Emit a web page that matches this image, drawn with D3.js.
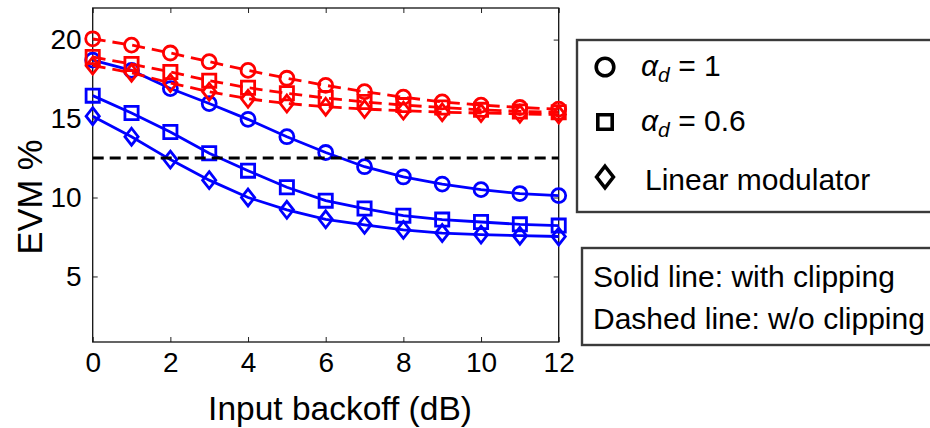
<!DOCTYPE html>
<html>
<head>
<meta charset="utf-8">
<script src="https://cdn.jsdelivr.net/npm/d3@7"></script>
<style>
  body { margin: 0; background: #fff; }
  svg { display: block; }
  text { font-family: "Liberation Sans", Arial, Helvetica, sans-serif; fill: #000; }
</style>
</head>
<body>
<svg id="chart" width="930" height="428"></svg>
<script>
// Input backoff (dB)
const backoff = [0, 1, 2, 3, 4, 5, 6, 7, 8, 9, 10, 11, 12];

// EVM (%) with clipping (solid blue)
const clipAlpha1   = [18.7, 18.05, 16.9, 15.95, 14.95, 13.85, 12.85, 11.95, 11.3, 10.85, 10.5, 10.25, 10.12];
const clipAlpha06  = [16.45, 15.35, 14.15, 12.8, 11.7, 10.65, 9.8, 9.3, 8.85, 8.6, 8.45, 8.3, 8.22];
const clipLinear   = [15.15, 13.85, 12.4, 11.1, 10.0, 9.22, 8.62, 8.27, 7.95, 7.75, 7.65, 7.58, 7.53];

// EVM (%) without clipping (dashed red)
const noClipAlpha1  = [20.05, 19.65, 19.15, 18.6, 18.05, 17.55, 17.1, 16.7, 16.35, 16.05, 15.85, 15.7, 15.6];
const noClipAlpha06 = [18.9, 18.45, 17.95, 17.4, 16.95, 16.6, 16.3, 16.05, 15.85, 15.7, 15.55, 15.45, 15.4];
const noClipLinear  = [18.35, 17.9, 17.25, 16.7, 16.25, 15.95, 15.75, 15.6, 15.5, 15.4, 15.35, 15.3, 15.25];

// EVM requirement level
const evmLimit = 12.5;

const xTicks = [0, 2, 4, 6, 8, 10, 12];
const yTicks = [5, 10, 15, 20];

const legendMarkers = ["circle", "square", "diamond"];
const legendNotes = ["Solid line: with clipping", "Dashed line: w/o clipping"];

const svg = d3.select("#chart");

const plotLeft = 92.7, plotRight = 558.7, plotTop = 8, plotBottom = 342;
const x = d3.scaleLinear().domain([0, 12]).range([plotLeft, plotRight]);
const y = d3.scaleLinear().domain([0.85, 22]).range([plotBottom, plotTop]);

// marker outlines centred on (cx, cy)
function markerPath(shape, cx, cy, s) {
  if (shape === "circle") {
    const p = d3.path();
    p.moveTo(cx + s, cy);
    p.arc(cx, cy, s, 0, 2 * Math.PI);
    p.closePath();
    return p.toString();
  }
  if (shape === "square") {
    return `M${cx - s},${cy - s}H${cx + s}V${cy + s}H${cx - s}Z`;
  }
  const w = s, h = s * 1.28;
  return `M${cx},${cy - h}L${cx + w},${cy}L${cx},${cy + h}L${cx - w},${cy}Z`;
}

// axes (ticks point inward, box all round)
const fontTick = 28;
const gx = svg.append("g").attr("transform", `translate(0,${plotBottom})`)
  .call(d3.axisBottom(x).tickValues(xTicks).tickSizeInner(-5).tickSizeOuter(0).tickPadding(10));
const gy = svg.append("g").attr("transform", `translate(${plotLeft},0)`)
  .call(d3.axisLeft(y).tickValues(yTicks).tickSizeInner(-5).tickSizeOuter(0).tickPadding(11));
const gt = svg.append("g").attr("transform", `translate(0,${plotTop})`)
  .call(d3.axisTop(x).tickValues(xTicks).tickSizeInner(-5).tickSizeOuter(0).tickFormat(""));
const gr = svg.append("g").attr("transform", `translate(${plotRight},0)`)
  .call(d3.axisRight(y).tickValues(yTicks).tickSizeInner(-5).tickSizeOuter(0).tickFormat(""));
[gx, gy, gt, gr].forEach(g => {
  g.select(".domain").remove();
  g.selectAll(".tick line").attr("stroke", "#222").attr("stroke-width", 1);
  g.selectAll(".tick text").attr("font-size", fontTick).attr("fill", "#000")
    .style("font-family", '"Liberation Sans", Arial, sans-serif');
});

svg.append("rect")
  .attr("x", plotLeft).attr("y", plotTop)
  .attr("width", plotRight - plotLeft).attr("height", plotBottom - plotTop)
  .attr("fill", "none").attr("stroke", "#111").attr("stroke-width", 1.3);

// axis titles
svg.append("text")
  .attr("x", 340).attr("y", 420)
  .attr("text-anchor", "middle").attr("font-size", 33.5)
  .text("Input backoff (dB)");
svg.append("text")
  .attr("transform", "translate(42,197) rotate(-90)")
  .attr("text-anchor", "middle").attr("font-size", 34.5)
  .text("EVM %");

const series = [
  { values: clipAlpha1,    shape: "circle",  color: "#0000ff", dashed: false },
  { values: clipAlpha06,   shape: "square",  color: "#0000ff", dashed: false },
  { values: clipLinear,    shape: "diamond", color: "#0000ff", dashed: false },
  { values: noClipAlpha1,  shape: "circle",  color: "#ff0000", dashed: true },
  { values: noClipAlpha06, shape: "square",  color: "#ff0000", dashed: true },
  { values: noClipLinear,  shape: "diamond", color: "#ff0000", dashed: true }
];

const line = d3.line().x(d => x(d[0])).y(d => y(d[1]));
const plot = svg.append("g");

series.forEach(s => {
  const pts = backoff.map((b, i) => [b, s.values[i]]);
  const g = plot.append("g");
  g.append("path")
    .attr("d", line(pts))
    .attr("fill", "none")
    .attr("stroke", s.color)
    .attr("stroke-width", 2.8)
    .attr("stroke-dasharray", s.dashed ? "13,7" : null);
  const size = s.shape === "circle" ? 7 : 6.6;
  g.selectAll("path.mk").data(pts).join("path")
    .attr("class", "mk")
    .attr("d", d => markerPath(s.shape, x(d[0]), y(d[1]), size))
    .attr("fill", "none")
    .attr("stroke", s.color)
    .attr("stroke-width", 2.8);
});

// EVM limit
plot.append("path")
  .attr("d", line([[0, evmLimit], [12, evmLimit]]))
  .attr("stroke", "#000")
  .attr("stroke-width", 3)
  .attr("stroke-dasharray", "11,6");

// marker legend
svg.append("rect")
  .attr("x", 577).attr("y", 40).attr("width", 380).attr("height", 172)
  .attr("fill", "#fff").attr("stroke", "#3a3a3a").attr("stroke-width", 2.4);

const legendY = [76, 131, 186];
legendMarkers.forEach((m, i) => {
  const s = m === "circle" ? 8.8 : (m === "square" ? 7.2 : 8.4);
  svg.append("path")
    .attr("d", markerPath(m, 605, legendY[i] - 9, s))
    .attr("fill", "none").attr("stroke", "#000").attr("stroke-width", 3.6);
});

function alphaLabel(yPos, value) {
  const t = svg.append("text").attr("x", 641).attr("y", yPos).attr("font-size", 30);
  t.append("tspan").attr("font-style", "italic").text("α");
  t.append("tspan").attr("font-style", "italic").attr("font-size", 21).attr("dy", 6).text("d");
  t.append("tspan").attr("dy", -6).text(" = " + value);
}
alphaLabel(legendY[0], "1");
alphaLabel(legendY[1], "0.6");
svg.append("text").attr("x", 645).attr("y", legendY[2] + 4).attr("font-size", 30)
  .text("Linear modulator");

// line-style legend
svg.append("rect")
  .attr("x", 582).attr("y", 248).attr("width", 380).attr("height", 97)
  .attr("fill", "#fff").attr("stroke", "#3a3a3a").attr("stroke-width", 2.4);
legendNotes.forEach((t, i) => {
  svg.append("text").attr("x", 593).attr("y", 287 + i * 42).attr("font-size", 30).text(t);
});
</script>
</body>
</html>
